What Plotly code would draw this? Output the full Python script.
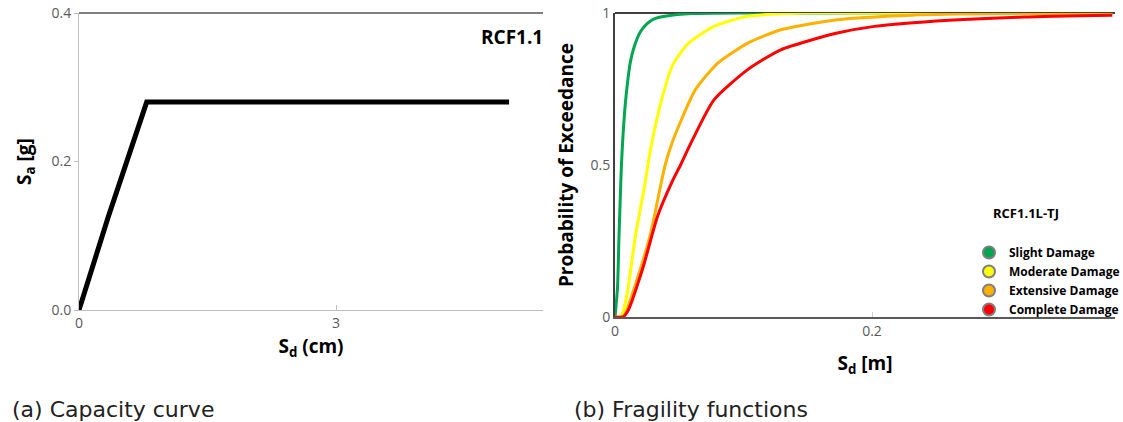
import plotly.graph_objects as go

# ---- data: (a) capacity curve ----
cap_sd = [0, 0.34, 0.79, 5.02]          # cm
cap_sa = [0, 0.125, 0.28, 0.28]         # g

# ---- data: (b) fragility functions ----
slight_sd = [0, 0.002, 0.003, 0.004, 0.005, 0.006, 0.008, 0.010, 0.012, 0.015, 0.020, 0.025, 0.030, 0.040, 0.060, 0.100, 0.200, 0.387]
slight_p  = [0, 0.10, 0.25, 0.38, 0.50, 0.58, 0.70, 0.78, 0.84, 0.89, 0.94, 0.965, 0.98, 0.99, 0.998, 1.0, 1.0, 1.0]

moderate_sd = [0, 0.004, 0.0058, 0.010, 0.016, 0.023, 0.0276, 0.036, 0.045, 0.057, 0.077, 0.103, 0.144, 0.200, 0.387]
moderate_p  = [0, 0.0, 0.01, 0.09, 0.27, 0.43, 0.55, 0.71, 0.83, 0.90, 0.956, 0.989, 1.0, 1.0, 1.0]

extensive_sd = [0, 0.005, 0.0073, 0.016, 0.0276, 0.039, 0.045, 0.0625, 0.080, 0.103, 0.129, 0.173, 0.231, 0.300, 0.387]
extensive_p  = [0, 0.0, 0.005, 0.108, 0.273, 0.50, 0.58, 0.747, 0.835, 0.90, 0.945, 0.978, 0.993, 0.998, 0.999]

complete_sd = [0, 0.006, 0.010, 0.0218, 0.033, 0.045, 0.051, 0.060, 0.077, 0.103, 0.129, 0.173, 0.202, 0.260, 0.318, 0.387]
complete_p  = [0, 0.0, 0.02, 0.163, 0.33, 0.45, 0.50, 0.58, 0.714, 0.813, 0.879, 0.934, 0.956, 0.976, 0.987, 0.993]

series_names = ["Slight Damage", "Moderate Damage", "Extensive Damage", "Complete Damage"]
series_colors = ["#00a650", "#ffff00", "#ffb000", "#ff0000"]
series_sd = [slight_sd, moderate_sd, extensive_sd, complete_sd]
series_p = [slight_p, moderate_p, extensive_p, complete_p]

W, H = 1123, 422
def px(x): return x / W
def py(y): return 1 - y / H

fig = go.Figure()

fig.add_trace(go.Scatter(x=cap_sd, y=cap_sa, mode="lines",
                         line=dict(color="black", width=5),
                         xaxis="x", yaxis="y", showlegend=False))

for name, col, xs, ys in zip(series_names, series_colors, series_sd, series_p):
    fig.add_trace(go.Scatter(x=xs, y=ys, mode="lines", line=dict(color=col, width=3, shape="spline", smoothing=0.6),
                             xaxis="x2", yaxis="y2", showlegend=False))
for name, col in zip(series_names, series_colors):
    fig.add_trace(go.Scatter(x=[None], y=[None], mode="markers", name=name,
                             marker=dict(color=col, size=9, line=dict(color="#7f7f7f", width=0.6)),
                             xaxis="x2", yaxis="y2", showlegend=True))

tickfont = dict(family="Open Sans, sans-serif", size=14, color="#595959")
titlefont = dict(family="Open Sans, sans-serif", size=19, color="black", weight="bold")

fig.update_layout(
    width=W, height=H,
    margin=dict(l=0, r=0, t=0, b=0, autoexpand=False),
    paper_bgcolor="white", plot_bgcolor="white",
    xaxis=dict(domain=[px(79), px(543)], range=[0, 5.416], tickvals=[0, 3], ticktext=["0", "3"],
               showgrid=False, zeroline=False, showline=True, linecolor="#bfbfbf", linewidth=1,
               ticks="inside", ticklen=5, tickcolor="#bfbfbf", tickfont=tickfont,
               title=dict(text="S<sub>d</sub> (cm)", font=titlefont, standoff=8)),
    yaxis=dict(domain=[py(310), py(13)], range=[0, 0.4], tickvals=[0, 0.2, 0.4], tickformat=".1f",
               showgrid=False, zeroline=False, showline=True, linecolor="#bfbfbf", linewidth=1,
               ticks="outside", ticklen=4, tickcolor="#bfbfbf", tickfont=tickfont,
               title=dict(text="S<sub>a</sub> [g]", font=titlefont, standoff=14)),
    xaxis2=dict(domain=[px(615), px(1115)], range=[0, 0.3891], tickvals=[0, 0.2], ticktext=["0", "0.2"],
                anchor="y2", showgrid=False, zeroline=False, showline=True, linecolor="#595959", linewidth=2,
                ticks="inside", ticklen=5, tickcolor="#d0d0d0", tickfont=tickfont,
                title=dict(text="S<sub>d</sub> [m]", font=titlefont, standoff=18)),
    yaxis2=dict(domain=[py(317), py(13)], range=[0, 1], tickvals=[0, 0.5, 1], ticktext=["0", "0.5", "1"],
                anchor="x2", showgrid=False, zeroline=False, showline=True, linecolor="#404040", linewidth=2,
                ticks="", tickfont=tickfont,
                title=dict(text="Probability of Exceedance", font=dict(family="Open Sans, sans-serif", size=19, color="black", weight="bold"), standoff=12)),
    legend=dict(x=px(969), y=py(238), xanchor="left", yanchor="top",
                bgcolor="rgba(0,0,0,0)", tracegroupgap=0, itemsizing="constant",
                font=dict(family="Open Sans, sans-serif", size=12, color="black", weight="bold")),
    shapes=[
        dict(type="line", xref="paper", yref="paper", x0=px(79), x1=px(543), y0=py(13), y1=py(13),
             line=dict(color="black", width=1)),
        dict(type="line", xref="paper", yref="paper", x0=px(615), x1=px(1115), y0=py(13), y1=py(13),
             line=dict(color="black", width=1.5), layer="below"),
    ],
    annotations=[
        dict(text="<b>RCF1.1</b>", xref="paper", yref="paper", x=px(545), y=py(37), xanchor="right", yanchor="middle",
             showarrow=False, font=dict(family="Open Sans, sans-serif", size=19, color="black")),
        dict(text="<b>RCF1.1L-TJ</b>", xref="paper", yref="paper", x=px(1026), y=py(213), xanchor="center", yanchor="middle",
             showarrow=False, font=dict(family="Open Sans, sans-serif", size=13, color="black")),
        dict(text="(a) Capacity curve", xref="paper", yref="paper", x=px(10), y=py(409), xanchor="left", yanchor="middle",
             showarrow=False, font=dict(family="DejaVu Sans, sans-serif", size=22, color="#222222")),
        dict(text="(b) Fragility functions", xref="paper", yref="paper", x=px(572), y=py(409), xanchor="left", yanchor="middle",
             showarrow=False, font=dict(family="DejaVu Sans, sans-serif", size=22, color="#222222")),
    ],
)

fig.write_html("out.html", config={"displayModeBar": False},
               post_script="document.body.style.margin='0';document.body.style.overflow='hidden';")
